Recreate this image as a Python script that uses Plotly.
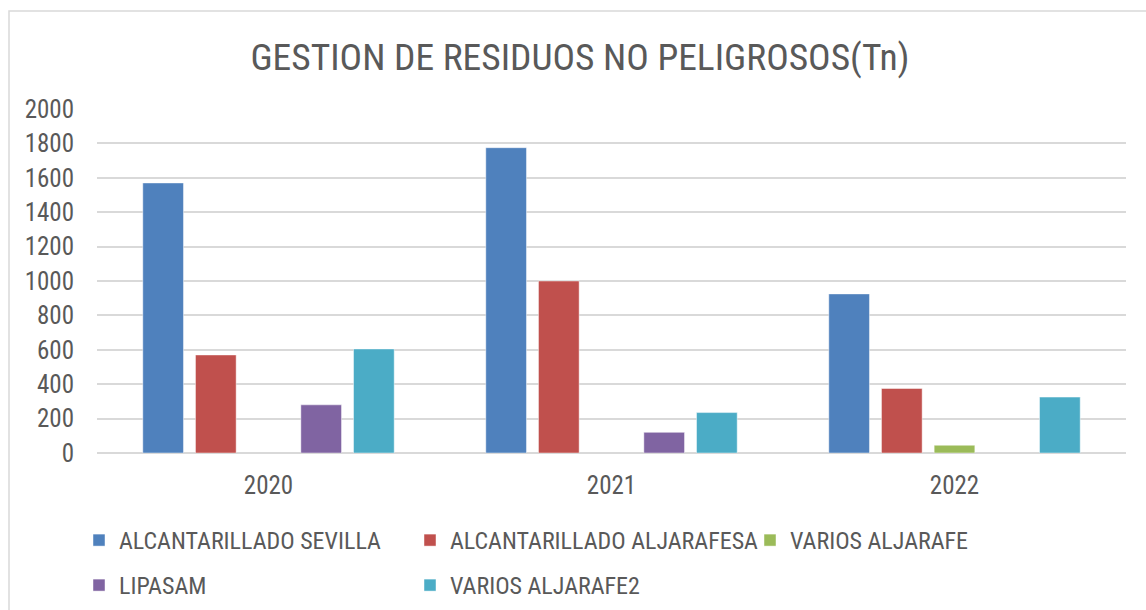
import plotly.graph_objects as go

years = ["2020", "2021", "2022"]
alc_sevilla = [1570, 1775, 925]
alc_aljarafesa = [570, 1000, 375]
varios_aljarafe = [None, None, 45]
lipasam = [280, 120, None]
varios_aljarafe2 = [605, 235, 325]

series_names = ["ALCANTARILLADO SEVILLA", "ALCANTARILLADO ALJARAFESA", "VARIOS ALJARAFE",
                "LIPASAM", "VARIOS ALJARAFE2"]
series_values = [alc_sevilla, alc_aljarafesa, varios_aljarafe, lipasam, varios_aljarafe2]
series_colors = ["#4F81BD", "#C0504D", "#9BBB59", "#8064A2", "#4BACC6"]

# legend item placement (left pixel of item, top pixel of legend box)
legend_pos = [(79, 518), (410, 518), (750, 518), (79, 563), (410, 563)]

FONT = "Liberation Sans Narrow, Arial Narrow, Roboto Condensed, sans-serif"
TXT = "#595959"

W, H = 1146, 610
L, R, T, B = 97, 20, 109, 157
ph = H - T - B
pw = W - L - R

fig = go.Figure()
legend_layout = {}
for i, (name, vals, col) in enumerate(zip(series_names, series_values, series_colors)):
    lg = "legend" if i == 0 else f"legend{i + 1}"
    fig.add_trace(go.Bar(
        x=years, y=vals, name=name, legend=lg,
        marker=dict(color=col, line=dict(color="rgba(255,255,255,0.45)", width=1)),
    ))
    lx, ly = legend_pos[i]
    legend_layout[lg] = dict(orientation="h", xref="container", yref="container",
                             x=lx / W, y=1 - ly / H, xanchor="left", yanchor="top",
                             font=dict(family=FONT, size=24, color=TXT),
                             bgcolor="rgba(0,0,0,0)")


def px_to_py(p):
    return (H - B - p) / ph


def px_to_px(x):
    return (x - L) / pw


fig.update_layout(
    width=W, height=H,
    margin=dict(l=L, r=R, t=T, b=B, autoexpand=False),
    paper_bgcolor="white", plot_bgcolor="white",
    barmode="group", bargap=0.232, bargroupgap=0.228,
    font=dict(family=FONT, color=TXT, size=25),
    title=dict(text="GESTION DE RESIDUOS NO PELIGROSOS(Tn)", x=580 / W, xanchor="center",
               y=1 - 57 / H, yanchor="middle", font=dict(family=FONT, size=37.5, color=TXT)),
    showlegend=True,
    xaxis=dict(showgrid=False, showline=False, ticks="", tickfont=dict(size=25, color=TXT),
               ticklabelstandoff=15, automargin=False),
    yaxis=dict(range=[0, 2000], dtick=200, showgrid=True, gridcolor="#d9d9d9", gridwidth=1.5,
               zeroline=True, zerolinecolor="#d9d9d9", zerolinewidth=1.5, showline=False,
               tickfont=dict(size=25, color=TXT), ticklabelstandoff=22, automargin=False),
    shapes=[dict(type="rect", xref="paper", yref="paper",
                 x0=px_to_px(9), x1=px_to_px(W + 50), y0=px_to_py(H + 50), y1=px_to_py(11),
                 line=dict(color="#d9d9d9", width=1.5), fillcolor="rgba(0,0,0,0)", layer="below")],
    **legend_layout,
)

fig.write_html("out.html", config={"displayModeBar": False},
               post_script="document.body.style.margin='0';document.body.style.overflow='hidden';")
